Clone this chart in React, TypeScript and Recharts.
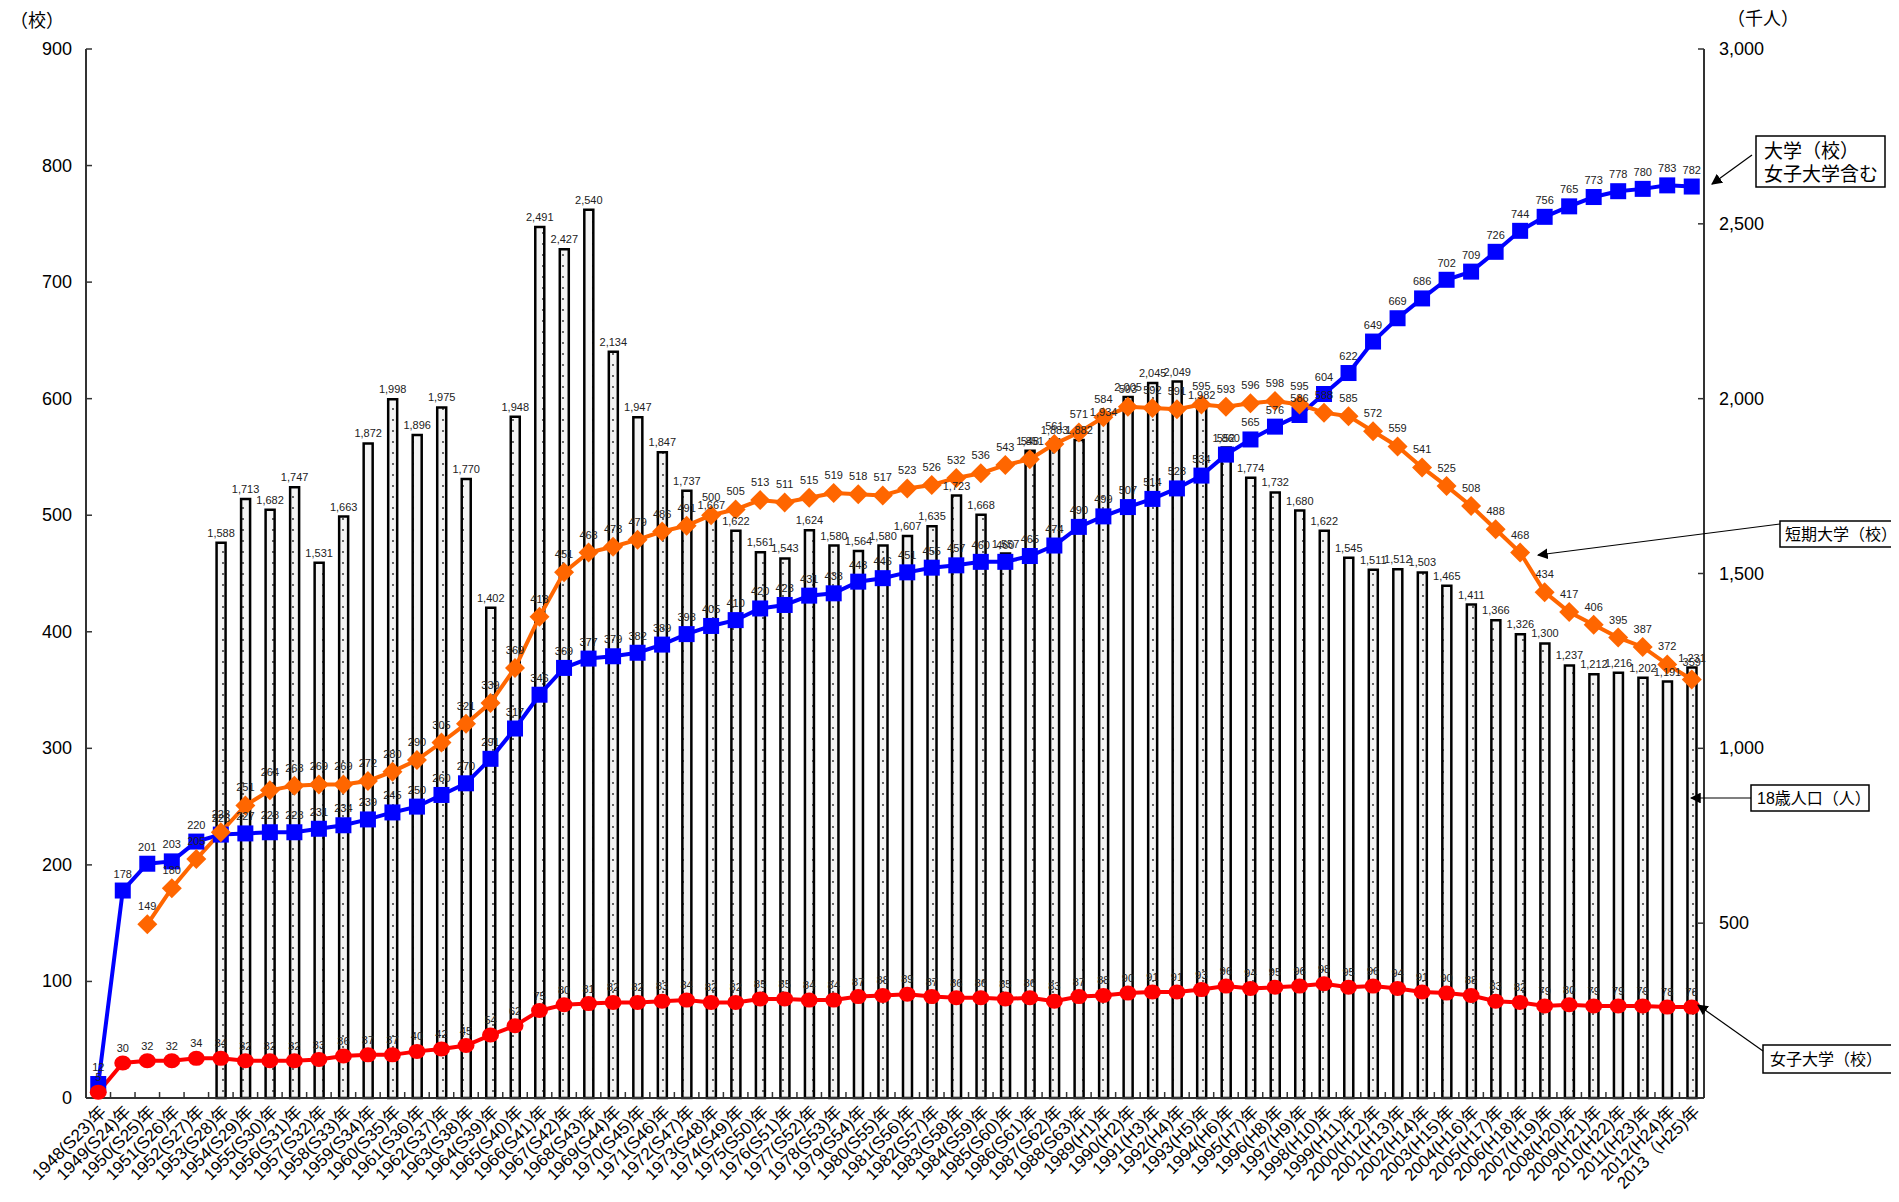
import React from "react";
import {
  ComposedChart,
  Bar,
  Line,
  XAxis,
  YAxis,
  LabelList,
} from "recharts";

const categories = [
  "1948(S23)年", "1949(S24)年", "1950(S25)年", "1951(S26)年", "1952(S27)年", "1953(S28)年",
  "1954(S29)年", "1955(S30)年", "1956(S31)年", "1957(S32)年", "1958(S33)年", "1959(S34)年",
  "1960(S35)年", "1961(S36)年", "1962(S37)年", "1963(S38)年", "1964(S39)年", "1965(S40)年",
  "1966(S41)年", "1967(S42)年", "1968(S43)年", "1969(S44)年", "1970(S45)年", "1971(S46)年",
  "1972(S47)年", "1973(S48)年", "1974(S49)年", "1975(S50)年", "1976(S51)年", "1977(S52)年",
  "1978(S53)年", "1979(S54)年", "1980(S55)年", "1981(S56)年", "1982(S57)年", "1983(S58)年",
  "1984(S59)年", "1985(S60)年", "1986(S61)年", "1987(S62)年", "1988(S63)年", "1989(H1)年",
  "1990(H2)年", "1991(H3)年", "1992(H4)年", "1993(H5)年", "1994(H6)年", "1995(H7)年",
  "1996(H8)年", "1997(H9)年", "1998(H10)年", "1999(H11)年", "2000(H12)年", "2001(H13)年",
  "2002(H14)年", "2003(H15)年", "2004(H16)年", "2005(H17)年", "2006(H18)年", "2007(H19)年",
  "2008(H20)年", "2009(H21)年", "2010(H22)年", "2011(H23)年", "2012(H24)年", "2013（H25)年",
];

// 大学（校）女子大学含む
const universities = [
  12, 178, 201, 203, 220, 226, 227, 228, 228, 231, 234, 239, 245, 250, 260, 270, 291, 317,
  346, 369, 377, 379, 382, 389, 398, 405, 410, 420, 423, 431, 433, 443, 446, 451, 455, 457,
  460, 460, 465, 474, 490, 499, 507, 514, 523, 534, 552, 565, 576, 586, 604, 622, 649, 669,
  686, 702, 709, 726, 744, 756, 765, 773, 778, 780, 783, 782,
];

// 短期大学（校）
const juniorColleges = [
  null, null, 149, 180, 205, 228, 251, 264, 268, 269, 269, 272, 280, 290, 305, 321, 339, 369,
  413, 451, 468, 473, 479, 486, 491, 500, 505, 513, 511, 515, 519, 518, 517, 523, 526, 532,
  536, 543, 548, 561, 571, 584, 593, 592, 591, 595, 593, 596, 598, 595, 588, 585, 572, 559,
  541, 525, 508, 488, 468, 434, 417, 406, 395, 387, 372, 359,
];

// 女子大学（校）
const womensUniversities = [
  5, 30, 32, 32, 34, 34, 32, 32, 32, 33, 36, 37, 37, 40, 42, 45, 54, 62,
  75, 80, 81, 82, 82, 83, 84, 82, 82, 85, 85, 84, 84, 87, 88, 89, 87, 86,
  86, 85, 86, 83, 87, 88, 90, 91, 91, 93, 96, 94, 95, 96, 98, 95, 96, 94,
  91, 90, 88, 83, 82, 79, 80, 79, 79, 79, 78, 78,
];

// 18歳人口（千人）
const population18 = [
  null, null, null, null, null, 1588, 1713, 1682, 1747, 1531, 1663, 1872, 1998, 1896, 1975, 1770, 1402, 1948,
  2491, 2427, 2540, 2134, 1947, 1847, 1737, 1667, 1622, 1561, 1543, 1624, 1580, 1564, 1580, 1607, 1635, 1723,
  1668, 1557, 1851, 1883, 1882, 1934, 2005, 2045, 2049, 1982, 1860, 1774, 1732, 1680, 1622, 1545, 1511, 1512,
  1503, 1465, 1411, 1366, 1326, 1300, 1237, 1212, 1216, 1202, 1191, 1231,
];

const leftTicks = [0, 100, 200, 300, 400, 500, 600, 700, 800, 900];
const rightTicks = [500, 1000, 1500, 2000, 2500, 3000];

const data = categories.map((name, i) => ({
  name,
  univ: universities[i],
  junior: juniorColleges[i],
  women: womensUniversities[i],
  pop: population18[i],
}));

const W = 1891;
const H = 1194;
const PLOT_W = 1618;
const BAND = PLOT_W / categories.length;
const FONT = "'Liberation Sans', Arial, 'Noto Sans CJK JP', sans-serif";

const LeftTick = (props: any) => {
  const { x, y, payload } = props;
  return (
    <g>
      <line x1={x + 14} x2={x + 20} y1={y} y2={y} stroke="#333" strokeWidth={1.5} />
      <text x={x} y={y} dy={6} textAnchor="end" fontSize={18} fill="#000">
        {payload.value}
      </text>
    </g>
  );
};

const RightTick = (props: any) => {
  const { x, y, payload } = props;
  return (
    <g>
      <line x1={x - 21} x2={x - 15} y1={y} y2={y} stroke="#333" strokeWidth={1.5} />
      <text x={x} y={y} dy={6} textAnchor="start" fontSize={18} fill="#000">
        {Number(payload.value).toLocaleString("en-US")}
      </text>
    </g>
  );
};

const XTick = (props: any) => {
  const { x, y, payload } = props;
  return (
    <g>
      <line x1={x + BAND / 2} x2={x + BAND / 2} y1={y} y2={y - 6} stroke="#333" strokeWidth={1.5} />
      <text
        transform={`translate(${x + 9},${y + 15}) rotate(-45)`}
        textAnchor="end"
        fontSize={17}
        fill="#000"
      >
        {payload.value}
      </text>
    </g>
  );
};

const squareDot = (props: any) => {
  const { cx, cy, index } = props;
  if (cx == null || cy == null) return <g key={`sq${index}`} />;
  return <rect key={`sq${index}`} x={cx - 8} y={cy - 8} width={16} height={16} fill="#0000ff" />;
};

const diamondDot = (props: any) => {
  const { cx, cy, index } = props;
  if (cx == null || cy == null) return <g key={`dm${index}`} />;
  return (
    <polygon
      key={`dm${index}`}
      points={`${cx},${cy - 10} ${cx + 10},${cy} ${cx},${cy + 10} ${cx - 10},${cy}`}
      fill="#ff6600"
    />
  );
};

const circleDot = (props: any) => {
  const { cx, cy, index } = props;
  if (cx == null || cy == null) return <g key={`ci${index}`} />;
  return <ellipse key={`ci${index}`} cx={cx} cy={cy} rx={8.5} ry={7.5} fill="#ff0000" />;
};

const fmt = (v: any) => (v == null ? "" : Number(v).toLocaleString("en-US"));

const Annotations = () => (
  <svg
    width={W}
    height={H}
    style={{ position: "absolute", left: 0, top: 0, pointerEvents: "none", fontFamily: FONT }}
  >
    <defs>
      <marker id="arrow" viewBox="0 0 10 10" refX="9" refY="5" markerWidth="9" markerHeight="9" orient="auto">
        <path d="M0,0 L10,5 L0,10 z" fill="#000" />
      </marker>
    </defs>
    <text x={2} y={19} fontSize={18}>（校）</text>
    <text x={1719} y={17} fontSize={18}>（千人）</text>

    <rect x={1748} y={128} width={129} height={51} fill="#fff" stroke="#000" strokeWidth={1.5} />
    <text x={1756} y={150} fontSize={19}>大学（校）</text>
    <text x={1756} y={173} fontSize={19}>女子大学含む</text>
    <line x1={1744} y1={147} x2={1704} y2={176} stroke="#000" strokeWidth={1.2} markerEnd="url(#arrow)" />

    <rect x={1772} y={513} width={118} height={26} fill="#fff" stroke="#000" strokeWidth={1.5} />
    <text x={1777} y={532} fontSize={16}>短期大学（校）</text>
    <line x1={1772} y1={516} x2={1530} y2={547} stroke="#000" strokeWidth={1.2} markerEnd="url(#arrow)" />

    <rect x={1743} y={777} width={118} height={26} fill="#fff" stroke="#000" strokeWidth={1.5} />
    <text x={1749} y={796} fontSize={16}>18歳人口（人）</text>
    <line x1={1743} y1={790} x2={1683} y2={790} stroke="#000" strokeWidth={1.2} markerEnd="url(#arrow)" />

    <rect x={1755} y={1037} width={135} height={28} fill="#fff" stroke="#000" strokeWidth={1.5} />
    <text x={1762} y={1057} fontSize={16}>女子大学（校）</text>
    <line x1={1755} y1={1043} x2={1690} y2={997} stroke="#000" strokeWidth={1.2} markerEnd="url(#arrow)" />
  </svg>
);

const App: React.FC = (): JSX.Element => {
  return (
    <div style={{ position: "relative", width: W, height: H, fontFamily: FONT, background: "#fff" }}>
      <ComposedChart
        width={W}
        height={H}
        data={data}
        margin={{ top: 41, right: 135, left: 0, bottom: 0 }}
        style={{ fontFamily: FONT }}
      >
        <defs>
          <pattern id="dots" width="10" height="11" patternUnits="userSpaceOnUse">
            <rect width="10" height="11" fill="#f4f4f4" />
            <circle cx="5" cy="5" r="0.9" fill="#222" />
          </pattern>
        </defs>
        <XAxis
          dataKey="name"
          interval={0}
          height={104}
          tickSize={0}
          tickMargin={0}
          tickLine={false}
          tick={<XTick />}
          axisLine={{ stroke: "#333", strokeWidth: 2 }}
        />
        <XAxis
          xAxisId="top"
          orientation="top"
          height={0}
          tick={false}
          tickLine={false}
          axisLine={{ stroke: "#555", strokeWidth: 1.5 }}
        />
        <YAxis
          yAxisId="left"
          domain={[0, 900]}
          ticks={leftTicks}
          width={78}
          tickSize={0}
          tickMargin={14}
          tickLine={false}
          tick={<LeftTick />}
          axisLine={{ stroke: "#333", strokeWidth: 2 }}
          interval={0}
        />
        <YAxis
          yAxisId="right"
          orientation="right"
          domain={[0, 3000]}
          ticks={rightTicks}
          width={60}
          tickSize={0}
          tickMargin={15}
          tickLine={false}
          tick={<RightTick />}
          axisLine={{ stroke: "#333", strokeWidth: 2 }}
          interval={0}
        />
        <Bar
          yAxisId="right"
          dataKey="pop"
          barSize={9}
          fill="url(#dots)"
          stroke="#000"
          strokeWidth={2.5}
          isAnimationActive={false}
        >
          <LabelList dataKey="pop" position="top" offset={6} fontSize={11} fill="#222" formatter={fmt} />
        </Bar>
        <Line
          yAxisId="left"
          dataKey="univ"
          stroke="#0000ff"
          strokeWidth={4}
          dot={squareDot}
          activeDot={false}
          isAnimationActive={false}
        >
          <LabelList dataKey="univ" position="top" offset={13} fontSize={11} fill="#222" formatter={fmt} />
        </Line>
        <Line
          yAxisId="left"
          dataKey="junior"
          stroke="#ff6600"
          strokeWidth={4}
          dot={diamondDot}
          activeDot={false}
          isAnimationActive={false}
        >
          <LabelList dataKey="junior" position="top" offset={14} fontSize={11} fill="#222" formatter={fmt} />
        </Line>
        <Line
          yAxisId="left"
          dataKey="women"
          stroke="#ff0000"
          strokeWidth={4}
          dot={circleDot}
          activeDot={false}
          isAnimationActive={false}
        >
          <LabelList dataKey="women" position="top" offset={11} fontSize={11} fill="#222" formatter={fmt} />
        </Line>
      </ComposedChart>
      <Annotations />
    </div>
  );
};

export default App;
